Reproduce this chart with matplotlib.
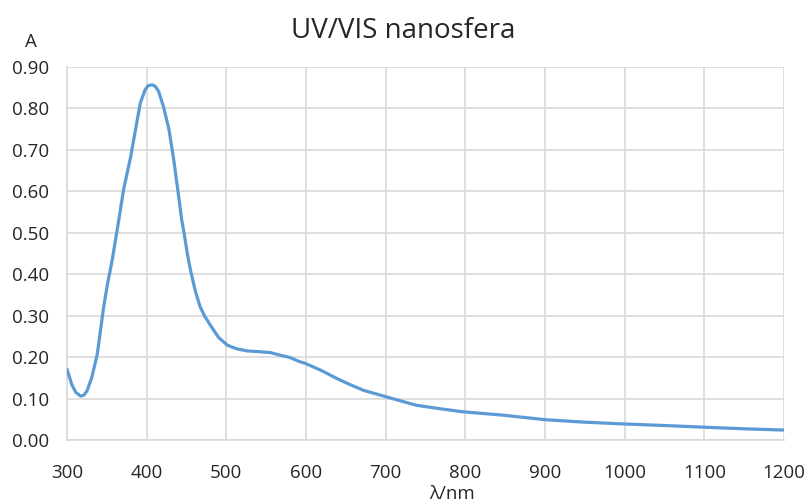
import matplotlib
matplotlib.use("Agg")
import matplotlib.pyplot as plt

plt.rcParams['font.family'] = ['Open Sans', 'DejaVu Sans']

wavelength = [300, 306, 311, 317, 321, 325, 331, 338, 342, 346, 351, 357, 365, 371, 380,
              386, 392, 398, 402, 407, 411, 415, 421, 428, 434, 440, 444, 447, 451, 455,
              461, 467, 473, 481, 490, 501, 513, 526, 542, 555, 567, 580, 592, 599, 620,
              638, 655, 672, 701, 738, 770, 797, 847, 900, 950, 1000, 1050, 1098, 1150, 1200]
absorbance = [0.171, 0.134, 0.115, 0.106, 0.108, 0.118, 0.150, 0.207, 0.264, 0.321, 0.378,
              0.437, 0.531, 0.604, 0.684, 0.749, 0.813, 0.845, 0.855, 0.857, 0.853, 0.841,
              0.805, 0.749, 0.676, 0.590, 0.531, 0.499, 0.450, 0.410, 0.360, 0.322, 0.298,
              0.274, 0.248, 0.229, 0.220, 0.215, 0.213, 0.211, 0.205, 0.199, 0.189, 0.185,
              0.167, 0.149, 0.134, 0.120, 0.104, 0.084, 0.075, 0.068, 0.060, 0.049, 0.043,
              0.0386, 0.035, 0.031, 0.027, 0.024]

xticks = list(range(300, 1201, 100))
yticks = [i / 10 for i in range(0, 10)]

fig = plt.figure(figsize=(8.08, 5.04), dpi=100)
ax = fig.add_axes([67/808, 1 - 440/504, (784 - 67)/808, (440 - 67)/504])

ax.plot(wavelength, absorbance, color='#5B9BD5', lw=2.3, solid_capstyle='round',
        solid_joinstyle='round', zorder=3)

ax.set_xlim(300, 1200)
ax.set_ylim(0, 0.9)
ax.set_xticks(xticks)
ax.set_yticks(yticks)
ax.set_yticklabels([f"{v:.2f}" for v in yticks])
ax.grid(True, color='#D9D9D9', lw=1.2)
ax.set_axisbelow(True)
for s in ['top', 'right']:
    ax.spines[s].set_visible(False)
for s in ['left', 'bottom']:
    ax.spines[s].set_color('#D9D9D9')
    ax.spines[s].set_linewidth(1.2)
ax.tick_params(length=0, labelsize=13.5, colors='#404040')
ax.tick_params(axis='y', pad=13)
ax.tick_params(axis='x', pad=17)
for lab in ax.get_xticklabels() + ax.get_yticklabels():
    lab.set_color('#262626')

fig.text(403/808, 1 - 31/504, 'UV/VIS nanosfera', ha='center', va='center', fontsize=20, color='#262626')
fig.text(31/808, 1 - 42/504, 'A', ha='center', va='center', fontsize=13.5, color='#262626')
fig.text(452/808, 1 - 494/504, 'λ/nm', ha='center', va='center', fontsize=13.5, color='#262626')

fig.savefig('out.png', dpi=100)
